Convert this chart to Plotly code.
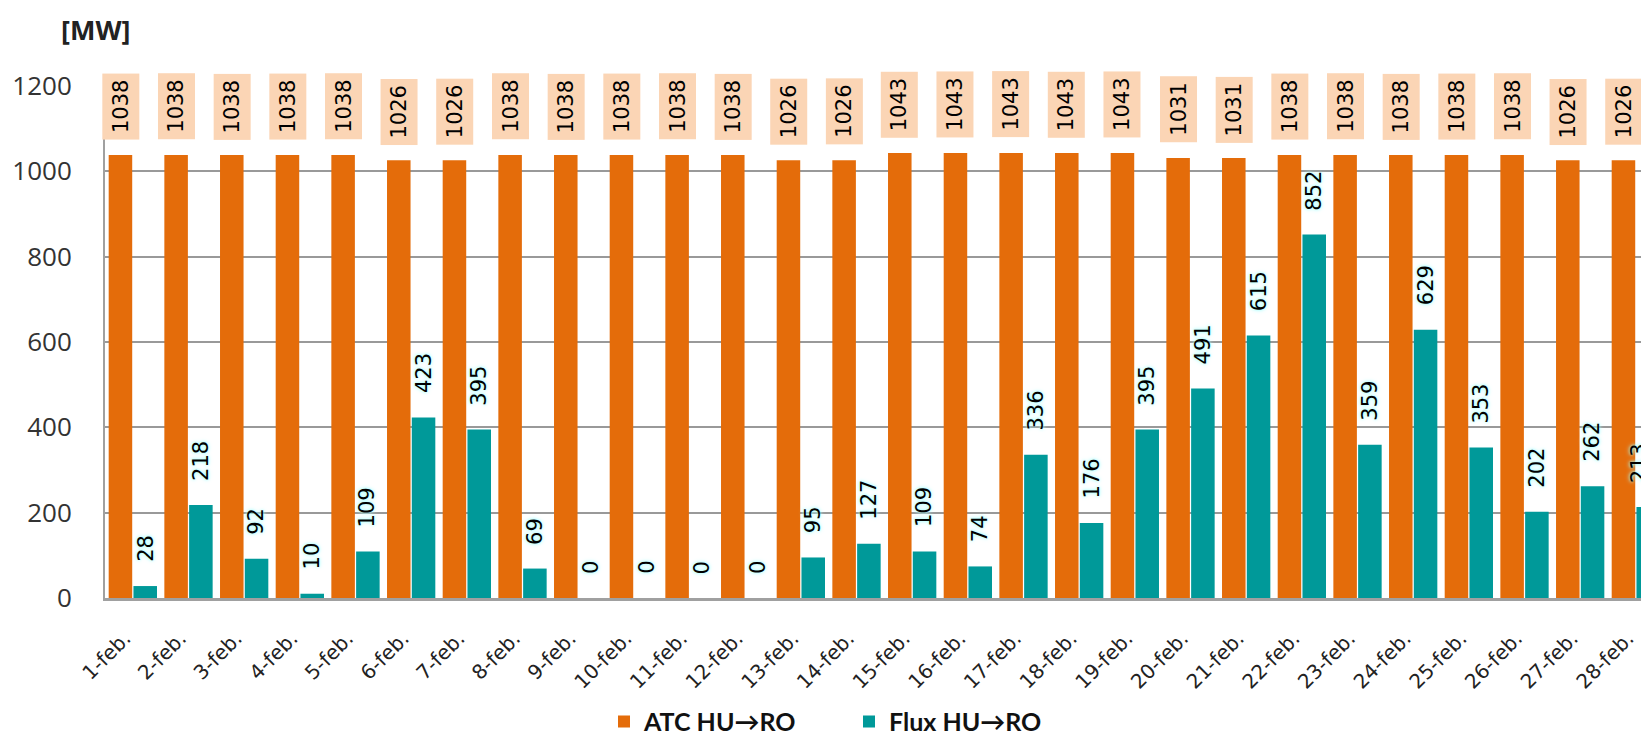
import plotly.graph_objects as go

dates = [f"{d}-feb." for d in range(1, 29)]
atc = [1038, 1038, 1038, 1038, 1038, 1026, 1026, 1038, 1038, 1038, 1038, 1038, 1026, 1026,
       1043, 1043, 1043, 1043, 1043, 1031, 1031, 1038, 1038, 1038, 1038, 1038, 1026, 1026]
flux = [28, 218, 92, 10, 109, 423, 395, 69, 0, 0, 0, 0, 95, 127,
        109, 74, 336, 176, 395, 491, 615, 852, 359, 629, 353, 202, 262, 213]
y_ticks = [0, 200, 400, 600, 800, 1000, 1200]

ORANGE = "#E46C0A"
TEAL = "#009999"
PEACH = "#FBD5B5"
BARGAP = 0.11
BARGROUPGAP = 0.05
slot = (1 - BARGAP) / 2
off = slot / 2

W, H = 1649, 737
ML, MR, MT, MB = 97, 0, 78, 138
pw = W - ML - MR
ph = H - MT - MB

fig = go.Figure()
fig.add_trace(go.Bar(x=dates, y=atc, name="ATC HU→RO", marker=dict(color=ORANGE, line=dict(width=0))))
fig.add_trace(go.Bar(x=dates, y=flux, name="Flux HU→RO", marker=dict(color=TEAL, line=dict(width=0))))

annotations = []
for i, v in enumerate(atc):
    annotations.append(dict(
        x=i - off, y=v, xref="x", yref="y", text=str(v), showarrow=False,
        textangle=-90, yanchor="bottom", xanchor="center", yshift=15,
        bgcolor=PEACH, borderpad=6,
        font=dict(family="DejaVu Sans", size=21, color="#000"),
    ))
n = len(flux)
for i, v in enumerate(flux):
    annotations.append(dict(
        x=i + off, y=v, xref="x", yref="y", text=str(v), showarrow=False,
        textangle=-90, yanchor="bottom", xanchor="center", yshift=22,
        xshift=-9 if i == n - 1 else 0,
        font=dict(family="DejaVu Sans", size=21, color="#000",
                  shadow="0px 0px 3px #9ff, 0px 0px 5px #bff"),
    ))
annotations.append(dict(
    x=(87 - ML) / pw, y=1 + (MT - 21) / ph, xref="paper", yref="paper",
    text="<b>[MW]</b>", showarrow=False, xanchor="center", yanchor="middle",
    font=dict(family="Open Sans", size=27, color="#222"),
))

fig.update_layout(
    width=W, height=H,
    margin=dict(l=ML, r=MR, t=MT, b=MB),
    paper_bgcolor="white", plot_bgcolor="white",
    barmode="group", bargap=BARGAP, bargroupgap=BARGROUPGAP,
    annotations=annotations,
    showlegend=True,
    legend=dict(
        orientation="h", x=(596 - ML) / pw, xanchor="left",
        y=-(725 - (H - MB)) / ph, yanchor="middle",
        font=dict(family="Lato", size=25, color="#111", weight="bold"),
        entrywidth=200, entrywidthmode="pixels",
        itemwidth=30,
    ),
    xaxis=dict(
        type="category", range=[-0.5, 27.38],
        tickangle=-45, tickfont=dict(family="DejaVu Sans", size=20, color="#222"),
        showline=True, linecolor="#A0A0A0", linewidth=2.5,
        showgrid=False, ticks="", ticklabelstandoff=18, ticklabelshift=-8,
    ),
    yaxis=dict(
        range=[0, 1200], tickvals=y_ticks,
        tickfont=dict(family="Open Sans", size=26, color="#333"),
        showgrid=True, gridcolor="#999999", gridwidth=1.5,
        showline=True, linecolor="#A0A0A0", linewidth=2,
        zeroline=False, ticks="", ticklabelstandoff=26,
    ),
)

fig.write_html("out.html")
